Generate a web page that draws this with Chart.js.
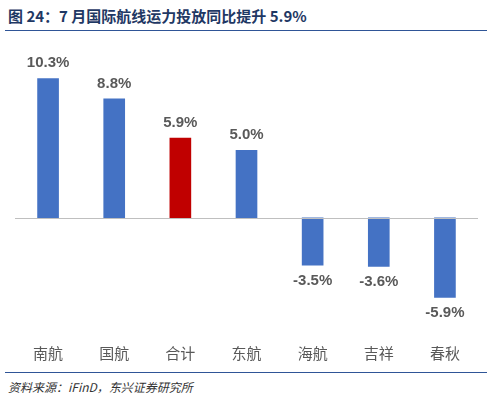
<!DOCTYPE html>
<html><head><meta charset="utf-8">
<script src="https://cdn.jsdelivr.net/npm/chart.js@4"></script>
<style>
body{margin:0;width:492px;height:401px;background:#fff;position:relative;font-family:"Noto Sans CJK SC",sans-serif;overflow:hidden}
#t{position:absolute;left:8px;top:5px;font-size:15px;font-weight:bold;color:#1F3864}
#l1{position:absolute;left:5px;right:5px;top:30px;border-top:1.5px solid #2F5597}
#l2{position:absolute;left:5px;right:5px;top:372px;border-top:1.5px solid #2F5597}
#s{position:absolute;left:8px;top:378px;font-size:12px;font-style:italic;color:#333}
#c{position:absolute;left:0;top:35px}
</style></head><body>
<div id="t">图 24：7 月国际航线运力投放同比提升 5.9%</div>
<div id="l1"></div>
<canvas id="c" width="492" height="335"></canvas>
<div id="l2"></div>
<div id="s">资料来源：iFinD，东兴证券研究所</div>
<script>
const categories=["南航","国航","合计","东航","海航","吉祥","春秋"];
const values=[10.3,8.8,5.9,5.0,-3.5,-3.6,-5.9];
const colors=["#4472C4","#4472C4","#C00000","#4472C4","#4472C4","#4472C4","#4472C4"];
const plug={id:'p',afterDatasetsDraw(ch){
 const c=ch.ctx,y=ch.scales.y,m=ch.getDatasetMeta(0);
 const z=Math.round(y.getPixelForValue(0))+0.5;
 c.save();c.strokeStyle='#BFBFBF';c.lineWidth=1;c.beginPath();c.moveTo(15,z);c.lineTo(478,z);c.stroke();
 c.fillStyle='#595959';c.font='bold 15px "Liberation Sans",Arial,sans-serif';c.textAlign='center';
 m.data.forEach((b,i)=>{const v=values[i];
  if(v>=0){c.textBaseline='bottom';c.fillText(v.toFixed(1)+'%',b.x,b.y-8);}
  else{c.textBaseline='top';c.fillText(v.toFixed(1)+'%',b.x,b.y+8);}});
 c.restore();}};
new Chart(document.getElementById('c'),{type:'bar',
 data:{labels:categories,datasets:[{data:values,backgroundColor:colors,barThickness:21}]},
 options:{responsive:false,animation:false,layout:{padding:{left:15,right:14,top:5}},
 plugins:{legend:{display:false},tooltip:{enabled:false}},
 scales:{y:{display:false,min:-8.16,max:13.16},
  x:{grid:{display:false},border:{display:false},ticks:{padding:8,color:'#595959',font:{size:15,family:'"Noto Sans CJK SC"'}}}}},
 plugins:[plug]});
</script></body></html>
